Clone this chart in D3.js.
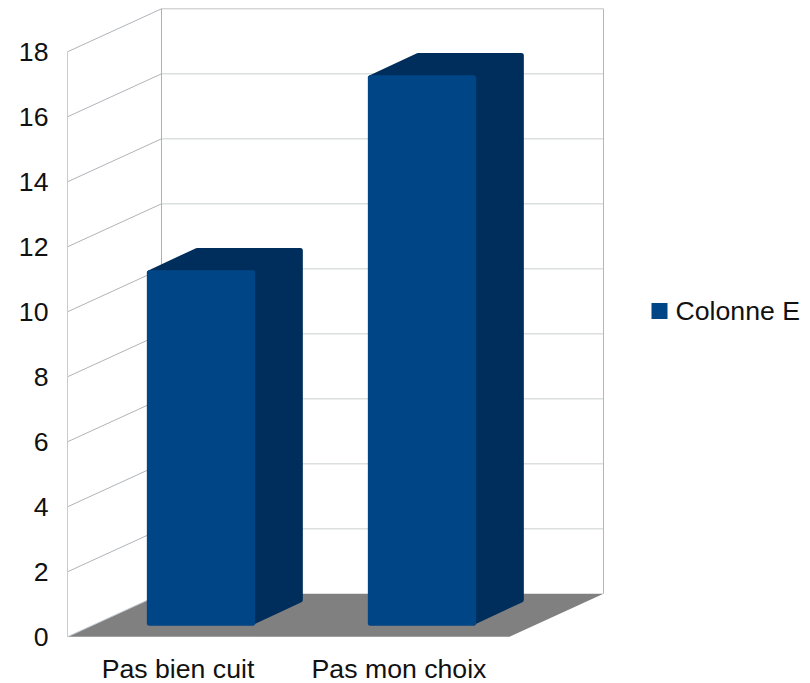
<!DOCTYPE html>
<html><head><meta charset="utf-8">
<style>html,body{margin:0;padding:0;background:#fff}svg{display:block}text{font-family:"Liberation Sans",Arial,sans-serif;fill:#111}</style>
<script src="https://cdn.jsdelivr.net/npm/d3@7/dist/d3.min.js"></script>
</head><body><svg id="c" width="810" height="683"></svg>
<script>
const categories = ["Pas bien cuit", "Pas mon choix"];
const seriesName = "Colonne E";
const values = [11, 17];
const yTicks = [0, 2, 4, 6, 8, 10, 12, 14, 16, 18];

const svg = d3.select("#c");
const x0 = 67.5, x1 = 509.5, yB = 636.8, yT = 51.8;
const dx = 94, dy = 43;             // depth of the box
const barDx = 47.7, barDy = 22.3;   // depth of a bar
const offX = 23, offY = 11.1;       // bar's front face offset from box front
const y = d3.scaleLinear().domain([0, 18]).range([yB, yT]);
const x = d3.scaleBand().domain(categories).range([x0, x1]).paddingInner(0).paddingOuter(0);
const barW = 108.3, inset = 2, round = 2.5, fontSize = 26.67;

const defs = svg.append("defs");
defs.append("filter").attr("id","soft").attr("x","-5%").attr("y","-5%").attr("width","110%").attr("height","110%")
  .append("feGaussianBlur").attr("stdDeviation",0.5);

// floor
svg.append("path").attr("d", d3.line()([[x0,yB],[x0+dx,yB-dy],[x1+dx,yB-dy],[x1,yB]])+"Z").attr("fill","#808080");

// back-wall gridlines
svg.append("g").selectAll("line").data(yTicks.filter(v=>v>0&&v<18)).join("line")
  .attr("x1",x0+dx).attr("x2",x1+dx).attr("y1",v=>y(v)-dy).attr("y2",v=>y(v)-dy)
  .attr("stroke","#dcdfdf").attr("stroke-width",1.6);
svg.append("line").attr("x1",x0+dx).attr("x2",x1+dx).attr("y1",y(18)-dy).attr("y2",y(18)-dy).attr("stroke","#c4c4c4");
// side-wall slanted lines
svg.append("g").selectAll("line").data(yTicks).join("line")
  .attr("x1",x0).attr("x2",x0+dx).attr("y1",v=>y(v)).attr("y2",v=>y(v)-dy)
  .attr("stroke",v=>v===0?"#c2ccd6":"#b0b4b8").attr("stroke-width",1);
// verticals
svg.append("line").attr("x1",x0).attr("x2",x0).attr("y1",y(18)).attr("y2",y(0)).attr("stroke","#c6ccd4");
svg.append("line").attr("x1",x0+dx).attr("x2",x0+dx).attr("y1",y(18)-dy).attr("y2",y(0)-dy).attr("stroke","#adb1b5");
svg.append("line").attr("x1",x1+dx).attr("x2",x1+dx).attr("y1",y(18)-dy).attr("y2",y(0)-dy).attr("stroke","#b4b6b8");

// bars
const fx = c => x(c) + x.bandwidth()/2 - barW/2 + offX;
const bars = svg.append("g").attr("filter","url(#soft)").selectAll("g").data(categories.map((c,i)=>({c,v:values[i]}))).join("g");
bars.append("path").attr("fill","#002e5b").attr("stroke","#002e5b").attr("stroke-width",round*2).attr("stroke-linejoin","round")
  .attr("d", d=>{
    const l=fx(d.c)+round, r=fx(d.c)+barW-round, t=y(d.v)-offY+inset+round, b=yB-offY-1-round;
    return d3.line()([[l,t],[l+barDx,t-barDy],[r+barDx,t-barDy],[r+barDx,b-barDy],[r,b],[r,t]])+"Z";
  });
bars.append("rect").attr("fill","#004586").attr("rx",round)
  .attr("x",d=>fx(d.c)).attr("width",barW)
  .attr("y",d=>y(d.v)-offY+inset).attr("height",d=>yB-offY-(y(d.v)-offY+inset));

// axes
const ay = svg.append("g").attr("transform",`translate(${x0-19},0)`)
  .call(d3.axisLeft(y).tickValues(yTicks).tickSize(0).tickPadding(0));
ay.select(".domain").remove();
const ax = svg.append("g").attr("transform",`translate(0,${yB+22.3})`)
  .call(d3.axisBottom(x).tickSize(0).tickPadding(0));
ax.select(".domain").remove();
svg.selectAll(".tick text").attr("font-size",fontSize).style("font-family",'"Liberation Sans",Arial,sans-serif').attr("fill","#111");

// legend
svg.append("rect").attr("x",651.5).attr("y",303).attr("width",16).attr("height",16).attr("fill","#004586");
svg.append("text").attr("x",675.5).attr("y",319.5).attr("font-size",fontSize).text(seriesName);
</script></body></html>
